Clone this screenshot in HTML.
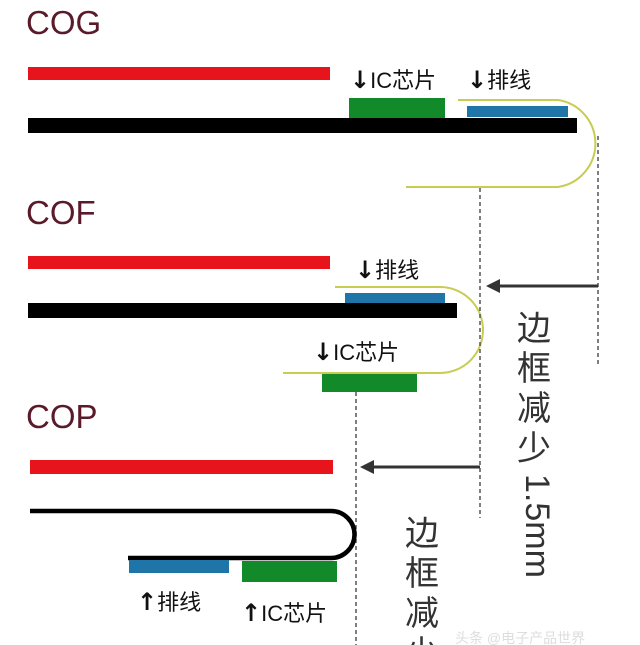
<!DOCTYPE html>
<html><head><meta charset="utf-8"><style>
body{margin:0;background:#fff}
svg{display:block}
.t{font-family:"Liberation Sans","Noto Sans CJK SC",sans-serif}
.a{font-family:"DejaVu Sans",sans-serif;font-weight:bold}
</style></head><body>
<svg width="640" height="645" viewBox="0 0 640 645" xmlns="http://www.w3.org/2000/svg">
<rect width="640" height="645" fill="#fff"/>
<g class="t" fill="#5a1a2a" font-size="33">
<text x="26" y="34">COG</text>
<text x="26" y="224">COF</text>
<text x="26" y="428">COP</text>
</g>
<!-- COG -->
<rect x="28" y="67" width="302" height="13" fill="#e8141c"/>
<rect x="349" y="98" width="96" height="20" fill="#138a2a"/>
<rect x="467" y="106" width="101" height="11" fill="#1f74a8"/>
<rect x="28" y="118" width="549" height="15" fill="#000"/>
<path d="M458 100 H558 A44 44 0 0 1 558 187 H406" fill="none" stroke="#c8cc50" stroke-width="2"/>
<g class="t" font-size="22" fill="#111">
<text x="350" y="88"><tspan class="a" font-size="24">↓</tspan>IC芯片</text>
<text x="467" y="88"><tspan class="a" font-size="24">↓</tspan>排线</text>
</g>
<!-- COF -->
<rect x="28" y="256" width="302" height="13" fill="#e8141c"/>
<rect x="345" y="293" width="100" height="10" fill="#1f74a8"/>
<rect x="28" y="303" width="429" height="15" fill="#000"/>
<path d="M335 287 H440 A43 43 0 0 1 440 373 H283" fill="none" stroke="#c8cc50" stroke-width="2"/>
<rect x="322" y="374" width="95" height="18" fill="#138a2a"/>
<g class="t" font-size="22" fill="#111">
<text x="355" y="278"><tspan class="a" font-size="24">↓</tspan>排线</text>
<text x="313" y="360"><tspan class="a" font-size="24">↓</tspan>IC芯片</text>
</g>
<!-- dashed -->
<g stroke="#555" stroke-width="1.5" stroke-dasharray="4,3">
<line x1="598" y1="136" x2="598" y2="365"/>
<line x1="480" y1="188" x2="480" y2="518"/>
<line x1="356" y1="392" x2="356" y2="645"/>
</g>
<!-- arrows -->
<line x1="598" y1="286" x2="496" y2="286" stroke="#333" stroke-width="3"/>
<path d="M486 286 L500 279 L500 293 Z" fill="#333"/>
<line x1="480" y1="467" x2="370" y2="467" stroke="#333" stroke-width="3"/>
<path d="M360 467 L374 460 L374 474 Z" fill="#333"/>
<!-- COP -->
<rect x="30" y="460" width="303" height="14" fill="#e8141c"/>
<path d="M30 511 H331 A23.5 23.5 0 0 1 331 558 H128" fill="none" stroke="#000" stroke-width="4.5"/>
<rect x="129" y="560" width="100" height="13" fill="#1f74a8"/>
<rect x="242" y="561" width="95" height="21" fill="#138a2a"/>
<g class="t" font-size="22" fill="#111">
<text x="137" y="610"><tspan class="a" font-size="24">↑</tspan>排线</text>
<text x="241" y="621"><tspan class="a" font-size="24">↑</tspan>IC芯片</text>
</g>
<!-- vertical texts -->
<g class="t" font-size="34" fill="#333">
<text x="517" y="340">边</text>
<text x="517" y="380">框</text>
<text x="517" y="420">减</text>
<text x="517" y="460">少</text>
<text transform="translate(526,474) rotate(90)">1.5mm</text>
<text x="405" y="545">边</text>
<text x="405" y="585">框</text>
<text x="405" y="625">减</text>
<text x="405" y="665">少</text>
</g>
<text class="t" x="455" y="643" font-size="14" fill="#ddd">头条 @电子产品世界</text>
</svg>
</body></html>
